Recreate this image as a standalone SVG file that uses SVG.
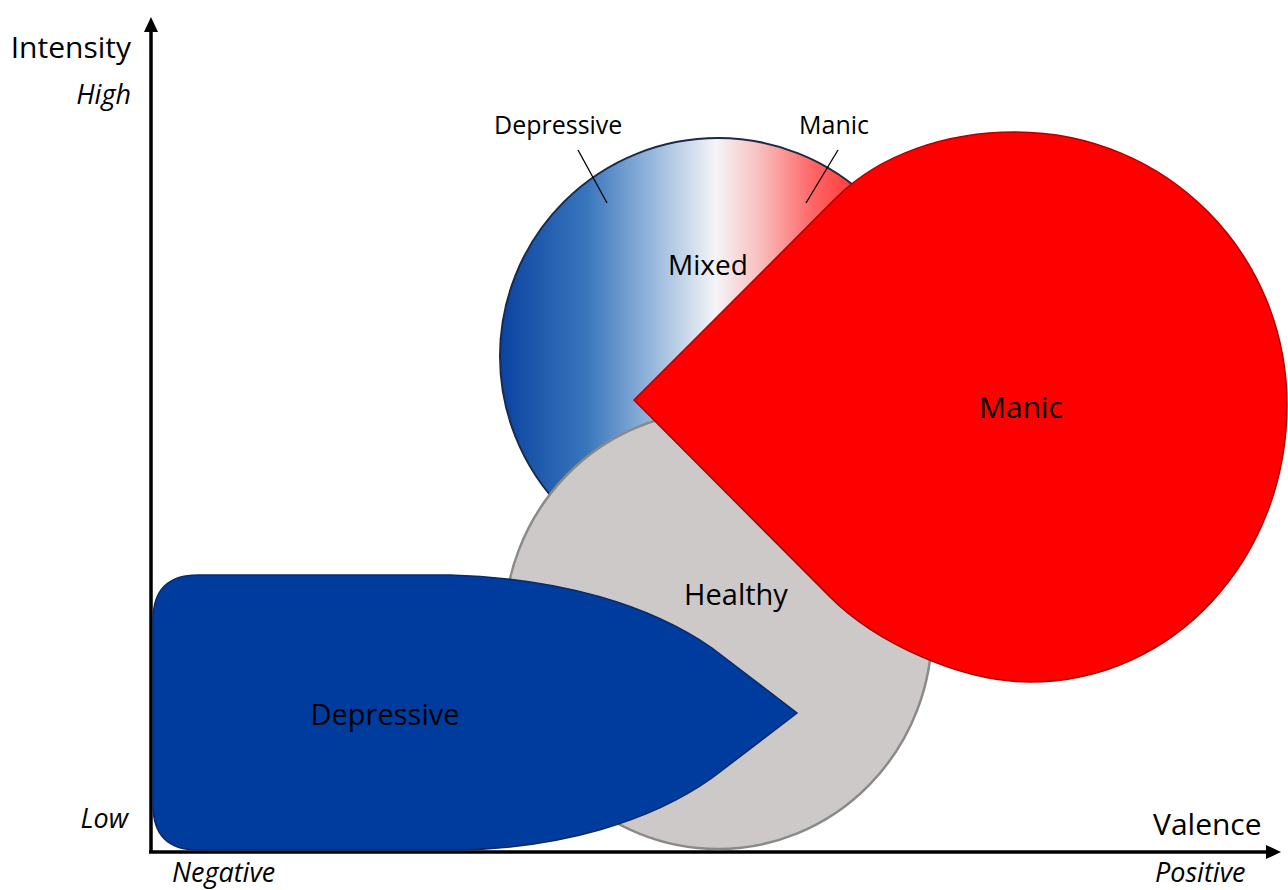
<svg xmlns="http://www.w3.org/2000/svg" width="1288" height="890" viewBox="0 0 1288 890">
<style>
text{font-family:"Open Sans","Noto Sans","Liberation Sans",sans-serif;fill:#000}
.lbl{font-size:29px;text-anchor:middle}
.ann{font-size:25px}
.ax{font-size:30px}
.it{font-size:27px;font-style:italic}
.axis{stroke:#000;stroke-width:3.5;fill:none}
.lead{stroke:#000;stroke-width:1.3;fill:none}
</style>
<defs>
<linearGradient id="mixGrad" gradientUnits="userSpaceOnUse" x1="500" y1="0" x2="936" y2="0">
<stop offset="0" stop-color="#0a43a0"/>
<stop offset="0.2" stop-color="#3a76bd"/>
<stop offset="0.36" stop-color="#9dbcdf"/>
<stop offset="0.495" stop-color="#f5f5f7"/>
<stop offset="0.59" stop-color="#f8c2c2"/>
<stop offset="0.72" stop-color="#ff6464"/>
<stop offset="0.86" stop-color="#ff2424"/>
<stop offset="1" stop-color="#ff0000"/>
</linearGradient>
<marker id="arrow" markerUnits="userSpaceOnUse" markerWidth="16" markerHeight="14" refX="2" refY="7" orient="auto">
<path d="M0,0 L15,7 L0,14 Z" fill="#000"/>
</marker>
</defs>

<g id="axes">
<line class="axis" x1="151" y1="852" x2="151" y2="30" marker-end="url(#arrow)"/>
<line class="axis" x1="149" y1="852" x2="1268" y2="852" marker-end="url(#arrow)"/>
<text class="ax" x="131" y="58" text-anchor="end">Intensity</text>
<text class="it" x="131" y="104" text-anchor="end">High</text>
<text class="it" x="128" y="828" text-anchor="end">Low</text>
<text class="ax" x="1153" y="835">Valence</text>
<text class="it" x="172" y="882">Negative</text>
<text class="it" x="1155" y="882">Positive</text>
</g>

<g id="mixed">
<circle cx="718" cy="356" r="218" fill="url(#mixGrad)" stroke="#1c2a48" stroke-width="2"/>
<text class="lbl" x="708" y="275" style="font-size:28px">Mixed</text>
<text class="ann" x="494" y="134">Depressive</text>
<text class="ann" x="799" y="134">Manic</text>
</g>

<g id="healthy">
<ellipse cx="718" cy="630" rx="214" ry="219" fill="#cdc9c8" stroke="#8a8a8a" stroke-width="2.5"/>
<text class="lbl" x="736" y="605">Healthy</text>
</g>

<g id="depressive">
<path d="M198 575 L450 575 C560 578 650 605 712 648 L797 713 L712 778 C650 822 560 848 460 850 L198 850 Q153 850 153 805 L153 620 Q153 575 198 575 Z" fill="#003c9e" stroke="#0b2a66" stroke-width="1.5"/>
<text class="lbl" x="385" y="725">Depressive</text>
</g>

<g id="manic">
<path d="M634 400 L838 196 C880 155 945 132 1015 132 C1167 132 1287 254 1287 405 C1287 558 1174 682 1030 682 C960 682 875 642 830 597 Z" fill="#ff0000" stroke="#b00000" stroke-width="1.5"/>
<text class="lbl" x="1021" y="418" style="font-size:30px">Manic</text>
</g>

<g id="connectors">
<line class="lead" x1="578" y1="150" x2="607" y2="203"/>
<line class="lead" x1="838" y1="150" x2="806" y2="203"/>
</g>
</svg>
